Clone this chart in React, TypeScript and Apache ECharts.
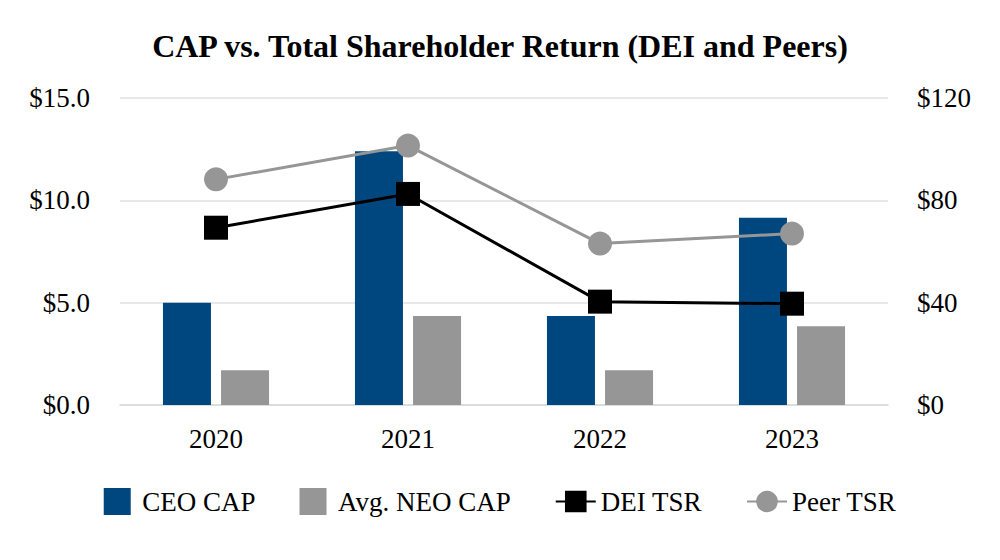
import React, { useEffect, useRef } from "react";
import * as echarts from "echarts";

const years = ["2020", "2021", "2022", "2023"];
const ceoCap = [5.0, 12.4, 4.35, 9.15];
const neoCap = [1.7, 4.35, 1.7, 3.85];
const deiTsr = [69.3, 82.5, 40.4, 39.6];
const peerTsr = [88.2, 101.4, 63.1, 67.0];

const FONT = '"Liberation Serif", "Times New Roman", serif';

export default function App() {
  const ref = useRef<HTMLDivElement>(null);
  useEffect(() => {
    if (!ref.current) return;
    const chart = echarts.init(ref.current, null, { renderer: "svg" });
    chart.setOption({
      animation: false,
      backgroundColor: "#ffffff",
      textStyle: { fontFamily: FONT },
      title: {
        text: "CAP vs. Total Shareholder Return (DEI and Peers)",
        left: "center",
        top: 25,
        textStyle: { fontFamily: FONT, fontSize: 32, fontWeight: "bold", color: "#000" },
      },
      grid: { left: 120, right: 112, top: 98, bottom: 155 },
      legend: {
        bottom: 40,
        left: "center",
        itemWidth: 40,
        itemHeight: 27,
        itemGap: 44,
        textStyle: { fontFamily: FONT, fontSize: 27, color: "#000" },
        data: [
          { name: "CEO CAP", icon: "path://M0,0H10V10H0Z" },
          { name: "Avg. NEO CAP", icon: "path://M0,0H10V10H0Z" },
          { name: "DEI TSR" },
          { name: "Peer TSR" },
        ],
      },
      xAxis: {
        type: "category",
        data: years,
        axisLine: { lineStyle: { color: "#d9d9d9", width: 1.5 } },
        axisTick: { show: false },
        axisLabel: { fontFamily: FONT, fontSize: 27, color: "#000", margin: 20 },
      },
      yAxis: [
        {
          type: "value",
          min: 0,
          max: 15,
          interval: 5,
          axisLine: { show: false },
          axisTick: { show: false },
          splitLine: { lineStyle: { color: "#e0e0e0", width: 1.5 } },
          axisLabel: {
            fontFamily: FONT,
            fontSize: 27,
            color: "#000",
            margin: 30,
            formatter: (v: number) => "$" + v.toFixed(1),
          },
        },
        {
          type: "value",
          min: 0,
          max: 120,
          interval: 40,
          axisLine: { show: false },
          axisTick: { show: false },
          splitLine: { show: false },
          axisLabel: {
            fontFamily: FONT,
            fontSize: 27,
            color: "#000",
            margin: 29,
            formatter: (v: number) => "$" + v,
          },
        },
      ],
      series: [
        {
          name: "CEO CAP",
          type: "bar",
          data: ceoCap,
          barWidth: 48,
          barGap: "21%",
          itemStyle: { color: "#00467f" },
        },
        {
          name: "Avg. NEO CAP",
          type: "bar",
          data: neoCap,
          barWidth: 48,
          itemStyle: { color: "#969696" },
        },
        {
          name: "DEI TSR",
          type: "line",
          yAxisIndex: 1,
          data: deiTsr,
          symbol: "rect",
          symbolSize: 24,
          lineStyle: { color: "#000", width: 3 },
          itemStyle: { color: "#000" },
          z: 5,
        },
        {
          name: "Peer TSR",
          type: "line",
          yAxisIndex: 1,
          data: peerTsr,
          symbol: "circle",
          symbolSize: 24,
          lineStyle: { color: "#969696", width: 3 },
          itemStyle: { color: "#969696" },
          z: 4,
        },
      ],
    });
    return () => chart.dispose();
  }, []);
  return (
    <div
      ref={ref}
      style={{ position: "absolute", left: 0, top: 0, width: 1000, height: 560 }}
    />
  );
}
